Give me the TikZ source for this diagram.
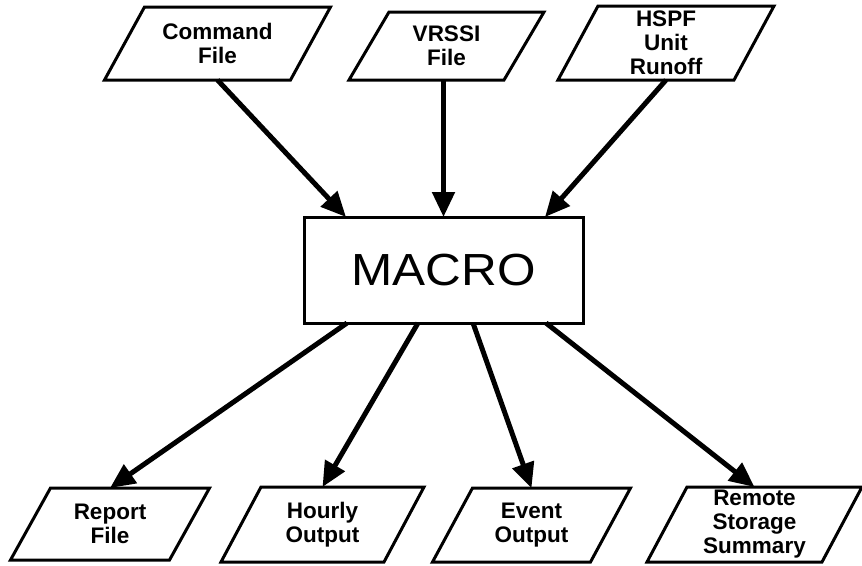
\documentclass[tikz,border=0pt]{standalone}
\usepackage{fontspec}
\setmainfont{Liberation Sans}
\newfontfamily\widesans{Liberation Sans}[FakeStretch=1.1]
\usetikzlibrary{arrows.meta}

% parallelogram outline round a label node (slanted to the right)
\newcommand\ioframe[1]{%
  \draw[frame] ([xshift=-20pt]#1.south west) -- ([xshift=-20pt]#1.south east)
    -- ([xshift=20pt]#1.north east) -- ([xshift=20pt]#1.north west) -- cycle;}

\begin{document}
\begin{tikzpicture}[x=1pt, y=-1pt,
  frame/.style={draw=black, line width=3pt, line join=miter},
  iolabel/.style={inner sep=0pt, outer sep=0pt, align=center,
    font=\bfseries\fontsize{22.5}{24}\selectfont},
  procbox/.style={draw=black, line width=3pt, inner sep=0pt, outer sep=0pt,
    font=\widesans\fontsize{45}{50}\selectfont},
  flow/.style={line width=5pt, -{Triangle[length=25pt,width=22pt]}},
]
\useasboundingbox (0,0) rectangle (862,565);

% inputs
\node[iolabel, minimum width=186pt, minimum height=73pt] (cmd) at (217.5,43.5) {Command\\File};
\node[iolabel, minimum width=155pt, minimum height=68pt] (vrssi) at (446.5,46) {VRSSI\\File};
\node[iolabel, minimum width=176pt, minimum height=74pt] (hspf) at (666,43) {HSPF\\Unit\\Runoff};

% model
\node[procbox, minimum width=279pt, minimum height=106pt] (macro) at (443.5,270) {MACRO};

% outputs
\node[iolabel, minimum width=159pt, minimum height=72pt] (report) at (110,524) {Report\\File};
\node[iolabel, minimum width=163pt, minimum height=75pt] (hourly) at (322.5,524.5) {Hourly\\Output};
\node[iolabel, minimum width=158pt, minimum height=74pt] (event) at (531.5,525) {Event\\Output};
\node[iolabel, minimum width=175pt, minimum height=75pt] (remote) at (754.5,524.5) {Remote\\Storage\\Summary};

\foreach \n in {cmd,vrssi,hspf,report,hourly,event,remote} {\ioframe{\n}}

% data flow
\draw[flow] (cmd.south) -- ([xshift=-97.5pt]macro.north);
\draw[flow] (vrssi.south -| macro.north) -- (macro.north);
\draw[flow] (hspf.south) -- ([xshift=101.5pt]macro.north);
\draw[flow] ([xshift=-96.5pt]macro.south) -- (report.north);
\draw[flow] ([xshift=-25.5pt]macro.south) -- (hourly.north);
\draw[flow] ([xshift=29.5pt]macro.south) -- (event.north);
\draw[flow] ([xshift=102.5pt]macro.south) -- (remote.north);
\end{tikzpicture}
\end{document}
